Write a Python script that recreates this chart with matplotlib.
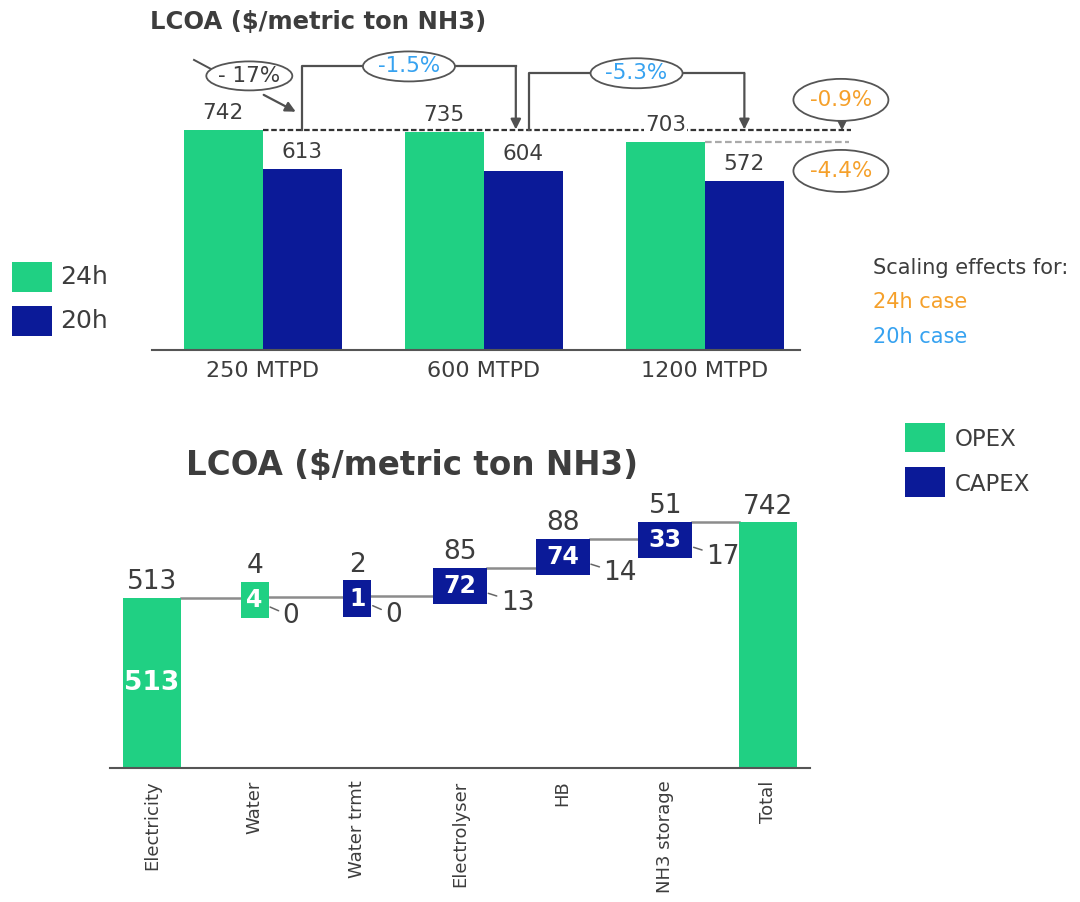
import numpy as np
import matplotlib
matplotlib.use('Agg')
import matplotlib.pyplot as plt
from matplotlib.patches import Ellipse, Rectangle

# top chart: LCOA by plant size and operating hours
sizes = ['250 MTPD', '600 MTPD', '1200 MTPD']
lcoa_24h = [742, 735, 703]
lcoa_20h = [613, 604, 572]
change_hours = '- 17%'
change_20h = ['-1.5%', '-5.3%']
change_24h = ['-0.9%', '-4.4%']

# bottom chart: cost build-up (250 MTPD, 24h)
steps = ['Electricity', 'Water', 'Water trmt', 'Electrolyser', 'HB', 'NH3 storage', 'Total']
step_total = [513, 4, 2, 85, 88, 51, 742]
step_main = [513, 4, 1, 72, 74, 33, 742]
step_other = [None, 0, 0, 13, 14, 17, None]
step_kind = ['OPEX', 'OPEX', 'CAPEX', 'CAPEX', 'CAPEX', 'CAPEX', 'OPEX']

GREEN = '#20D083'
NAVY = '#0B1A98'
TXT = '#3d3d3d'
LINE = '#505050'
ORANGE = '#F5A02A'
BLUE = '#36A2F0'

plt.rcParams['font.family'] = 'DejaVu Sans'

W, H = 1080, 902
fig = plt.figure(figsize=(W / 100, H / 100), dpi=100)


def fx(px):
    return px / W


def fy(py):
    return 1 - py / H


# ---------------- top chart ----------------
ax1 = fig.add_axes([fx(152), fy(350), (800 - 152) / W, (350 - 54) / H])
x = np.arange(len(sizes))
bw = 0.357
ax1.bar(x - bw / 2, lcoa_24h, bw, color=GREEN, zorder=2)
ax1.bar(x + bw / 2, lcoa_20h, bw, color=NAVY, zorder=2)
ax1.set_xlim(-0.5, 2.43)
ax1.set_ylim(0, 1000)
for s in ['top', 'right', 'left']:
    ax1.spines[s].set_visible(False)
ax1.spines['bottom'].set_color('#555555')
ax1.spines['bottom'].set_linewidth(1.5)
ax1.set_yticks([])
ax1.set_xticks(x, sizes, fontsize=16, color=TXT)
ax1.tick_params(axis='x', length=0, pad=8)

for xs, vals in [(x - bw / 2, lcoa_24h), (x + bw / 2, lcoa_20h)]:
    for xi, v in zip(xs, vals):
        ax1.annotate(str(v), (xi, v), xytext=(0, 5), textcoords='offset points',
                     ha='center', va='bottom', fontsize=15.5, color=TXT, zorder=5,
                     bbox=dict(fc='white', ec='none', pad=0.5))

# reference dotted lines
ax1.plot([x[0], 2.66], [lcoa_24h[0]] * 2, ls=(0, (2.5, 1.2)), color='#333333',
         lw=1.6, clip_on=False, zorder=1)
ax1.plot([x[2], 2.65], [lcoa_24h[2]] * 2, ls=(0, (3, 1.5)), color='#aaaaaa',
         lw=1.6, clip_on=False, zorder=1)

sx = 648 / 2.93   # px per x unit
sy = 296 / 1000   # px per y unit


def bubble(cx, cy, text, color, wpx=92, hpx=30):
    ax1.add_patch(Ellipse((cx, cy), wpx / sx, hpx / sy, fc='white', ec='#555555',
                          lw=1.3, clip_on=False, zorder=6))
    ax1.text(cx, cy, text, ha='center', va='center', fontsize=15.5, color=color,
             zorder=7, clip_on=False)


def arrow(x0, y0, x1, y1):
    ax1.annotate('', xy=(x1, y1), xytext=(x0, y0),
                 arrowprops=dict(arrowstyle='-|>', color=LINE, lw=1.6, shrinkA=0,
                                 shrinkB=0, mutation_scale=15),
                 annotation_clip=False, zorder=5)


def bracket(x0, x1, ytop, text):
    ax1.plot([x0, x0, x1], [lcoa_24h[0], ytop, ytop], color=LINE, lw=1.6,
             clip_on=False, zorder=5)
    arrow(x1, ytop, x1, lcoa_24h[0] + 3)
    bubble((x0 + x1) / 2, ytop, text, BLUE, hpx=30)


# 24h vs 20h
bubble(-0.06, 926, change_hours, TXT, wpx=86, hpx=29)
ax1.plot([-0.31, -0.235], [980, 950], color=LINE, lw=1.4, clip_on=False, zorder=5)
arrow(0.005, 862, 0.15, 805)

# 20h scaling
bracket(x[0] + bw / 2, x[1] + 0.145, 958, change_20h[0])
bracket(x[1] + bw / 2 + 0.025, x[2] + bw / 2, 935, change_20h[1])

# 24h scaling
bubble(2.615, 845, change_24h[0], ORANGE, wpx=95, hpx=42)
arrow(2.62, 845 - 71, 2.62, lcoa_24h[0])
bubble(2.615, 605, change_24h[1], ORANGE, wpx=95, hpx=42)

fig.text(fx(150), fy(22), 'LCOA ($/metric ton NH3)', fontsize=17.5, weight='bold',
         va='center', color=TXT)

fig.add_artist(Rectangle((fx(12), fy(292)), 40 / W, 30 / H, transform=fig.transFigure,
                         fc=GREEN, ec='none'))
fig.add_artist(Rectangle((fx(12), fy(336)), 40 / W, 30 / H, transform=fig.transFigure,
                         fc=NAVY, ec='none'))
fig.text(fx(60), fy(277), '24h', fontsize=18, va='center', color=TXT)
fig.text(fx(60), fy(321), '20h', fontsize=18, va='center', color=TXT)

fig.text(fx(873), fy(268), 'Scaling effects for:', fontsize=15, va='center', color=TXT)
fig.text(fx(873), fy(302), '24h case', fontsize=15, va='center', color=ORANGE)
fig.text(fx(873), fy(337), '20h case', fontsize=15, va='center', color=BLUE)

# ---------------- bottom chart (waterfall) ----------------
ax2 = fig.add_axes([fx(110), fy(768), (810 - 110) / W, (768 - 437) / H])
ax2.set_xlim(-0.409, 6.409)
ax2.set_ylim(0, 1000)
for s in ['top', 'right', 'left']:
    ax2.spines[s].set_visible(False)
ax2.spines['bottom'].set_color('#555555')
ax2.spines['bottom'].set_linewidth(1.5)
ax2.set_yticks([])
ax2.set_xticks(range(len(steps)), steps, rotation=90, fontsize=13, color=TXT)
ax2.tick_params(axis='x', length=0, pad=9)

end_w = 0.57
ax2.bar(0, step_total[0], end_w, color=GREEN, zorder=2)
ax2.text(0, step_total[0] / 2, str(step_main[0]), ha='center', va='center',
         fontsize=19, weight='bold', color='white', zorder=3)
ax2.annotate(str(step_total[0]), (0, step_total[0]), xytext=(0, 2),
             textcoords='offset points', ha='center', va='bottom', fontsize=19, color=TXT)

cum = step_total[0]
prev_right = end_w / 2
for i in range(1, len(steps) - 1):
    prev = cum
    cum = prev + step_total[i]
    top = max(cum, prev + 50)
    bot = top - 110
    w = 0.25 * len(str(step_main[i])) + 0.025
    ax2.plot([prev_right, i - w / 2], [prev, prev], color='#8c8c8c', lw=1.8, zorder=1)
    col = GREEN if step_kind[i] == 'OPEX' else NAVY
    ax2.bar(i, top - bot, w, bottom=bot, color=col, zorder=2)
    ax2.text(i, (top + bot) / 2, str(step_main[i]), ha='center', va='center',
             fontsize=17, weight='bold', color='white', zorder=3)
    ax2.annotate(str(step_total[i]), (i, top), xytext=(0, 2), textcoords='offset points',
                 ha='center', va='bottom', fontsize=19, color=TXT)
    ax2.annotate(str(step_other[i]), (i + w / 2, bot + 35), xytext=(10, -7),
                 textcoords='offset points', ha='left', va='center', fontsize=19,
                 color=TXT, zorder=4,
                 arrowprops=dict(arrowstyle='-', color='#666666', lw=1.1,
                                 shrinkA=1, shrinkB=1))
    prev_right = i + w / 2

n = len(steps) - 1
ax2.plot([prev_right, n - end_w / 2], [cum, cum], color='#8c8c8c', lw=1.8, zorder=1)
ax2.bar(n, step_total[n], end_w, color=GREEN, zorder=2)
ax2.annotate(str(step_total[n]), (n, step_total[n]), xytext=(0, 2),
             textcoords='offset points', ha='center', va='bottom', fontsize=19, color=TXT)

fig.text(fx(412), fy(465), 'LCOA ($/metric ton NH3)', fontsize=23.5, weight='bold',
         ha='center', va='center', color=TXT)

fig.add_artist(Rectangle((fx(905), fy(452)), 40 / W, 29 / H, transform=fig.transFigure,
                         fc=GREEN, ec='none'))
fig.add_artist(Rectangle((fx(905), fy(497)), 40 / W, 30 / H, transform=fig.transFigure,
                         fc=NAVY, ec='none'))
fig.text(fx(955), fy(439), 'OPEX', fontsize=16.5, va='center', color=TXT)
fig.text(fx(955), fy(484), 'CAPEX', fontsize=16.5, va='center', color=TXT)

fig.savefig('out.png', dpi=100)
